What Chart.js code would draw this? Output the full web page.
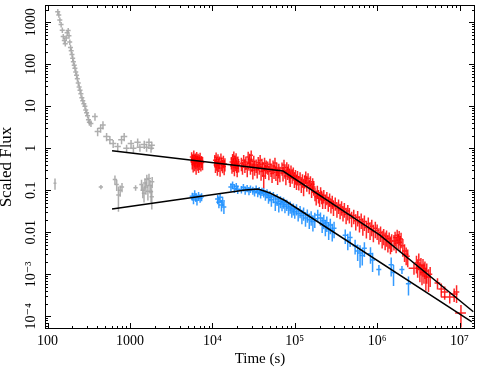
<!DOCTYPE html>
<html>
<head>
<meta charset="utf-8">
<script src="https://cdn.jsdelivr.net/npm/chart.js@4"></script>
<style>
  html, body { margin: 0; padding: 0; background: #fff; }
</style>
</head>
<body>
<canvas id="fluxChart" width="485" height="367"></canvas>
<script>
// each row: [time (s), scaled flux, fractional time error, fractional flux error]
const grayPoints = [
  [133,1790,0.07,0.15],[137,1500,0.07,0.15],[141,1130,0.07,0.15],[146,880,0.07,0.15],[151,650,0.07,0.15],
  [155,460,0.07,0.15],[160,370,0.07,0.15],[164,310,0.07,0.15],[168,420,0.07,0.15],[173,560,0.07,0.15],
  [178,640,0.07,0.15],[182,480,0.07,0.15],[186,340,0.07,0.15],[190,250,0.07,0.15],[194,210,0.07,0.15],
  [198,170,0.07,0.15],[202,140,0.07,0.15],[206,115,0.07,0.15],[211,95,0.07,0.15],[215,80,0.07,0.15],
  [220,66,0.07,0.15],[225,55,0.07,0.15],[230,45,0.07,0.15],[236,36,0.07,0.15],[242,29,0.07,0.15],
  [248,24,0.07,0.15],[254,20,0.07,0.15],[261,16,0.07,0.15],[268,13.5,0.07,0.15],[276,11.5,0.07,0.15],
  [284,10,0.07,0.15],[291,8.2,0.07,0.15],[298,7.0,0.07,0.15],[306,6.0,0.07,0.15],[314,4.8,0.07,0.18],
  [322,4.2,0.07,0.18],[336,3.9,0.07,0.18],[376,5.7,0.08,0.2],[405,2.5,0.08,0.22],[440,3.0,0.08,0.22],
  [470,3.6,0.08,0.22],[520,1.9,0.09,0.22],[570,1.6,0.09,0.22],[625,1.3,0.09,0.22],[710,1.1,0.09,0.22],
  [790,1.6,0.09,0.22],[850,1.9,0.09,0.22],[910,1.0,0.09,0.22],[1030,1.3,0.09,0.22],[1100,1.0,0.09,0.22],
  [1240,1.4,0.09,0.22],[1320,1.06,0.09,0.22],[1490,1.24,0.09,0.22],[1590,1.06,0.09,0.22],[1700,1.4,0.09,0.22],
  [1840,1.18,0.09,0.22],[1800,1.0,0.09,0.22],
  [123,0.147,0.04,0.3],[444,0.12,0.06,0.12],[657,0.18,0.06,0.25],[690,0.137,0.06,0.3],[724,0.077,0.06,0.6],
  [760,0.1,0.06,0.3],[800,0.12,0.06,0.25],[1170,0.115,0.06,0.15],[1380,0.137,0.06,0.3],[1430,0.1,0.06,0.35],
  [1480,0.085,0.06,0.4],[1520,0.15,0.06,0.3],[1560,0.12,0.06,0.35],[1600,0.18,0.06,0.3],[1650,0.095,0.06,0.4],
  [1700,0.19,0.06,0.3],[1750,0.13,0.06,0.35],[1800,0.093,0.06,0.45],[1840,0.07,0.06,0.5],[1860,0.16,0.06,0.3]
];

const redPoints = [
  [5600,0.62,0.05,0.3],[5700,0.48,0.05,0.35],[5800,0.55,0.05,0.3],[5850,0.41,0.05,0.35],[5950,0.68,0.05,0.3],
  [6050,0.52,0.05,0.33],[6100,0.44,0.05,0.35],[6200,0.58,0.05,0.3],[6300,0.49,0.05,0.35],[6350,0.38,0.05,0.38],
  [6450,0.63,0.05,0.3],[6550,0.51,0.05,0.32],[6650,0.45,0.05,0.35],[6700,0.57,0.05,0.3],[6800,0.40,0.05,0.35],
  [6900,0.53,0.05,0.32],[7000,0.47,0.05,0.35],[7100,0.60,0.05,0.3],[7250,0.43,0.05,0.35],[7400,0.50,0.05,0.32],
  [7600,0.46,0.05,0.35],
  [10700,0.52,0.05,0.33],[10900,0.40,0.05,0.35],[11100,0.61,0.05,0.3],[11300,0.45,0.05,0.35],[11500,0.36,0.05,0.38],
  [11700,0.55,0.05,0.32],[11900,0.42,0.05,0.35],[12100,0.48,0.05,0.33],[12400,0.34,0.05,0.38],[12700,0.58,0.05,0.3],
  [13000,0.44,0.05,0.35],[13300,0.39,0.05,0.35],[13600,0.50,0.05,0.33],[13900,0.37,0.05,0.38],[14200,0.43,0.05,0.35],
  [17000,0.47,0.05,0.33],[17300,0.38,0.05,0.35],[17600,0.56,0.05,0.3],[17900,0.42,0.05,0.35],[18200,0.65,0.05,0.3],
  [18500,0.35,0.05,0.38],[18800,0.50,0.05,0.33],[19100,0.44,0.05,0.35],[19400,0.59,0.05,0.3],[19700,0.40,0.05,0.35],
  [20000,0.33,0.05,0.38],[20400,0.48,0.05,0.33],[20800,0.41,0.05,0.35],
  [22500,0.44,0.05,0.35],[23200,0.36,0.05,0.35],[24000,0.52,0.05,0.33],[24800,0.40,0.05,0.35],[25500,0.47,0.05,0.35],
  [26500,0.33,0.05,0.38],[27200,0.62,0.05,0.33],[27800,0.45,0.05,0.35],[28400,0.55,0.05,0.35],[29000,0.38,0.05,0.38],
  [29600,0.68,0.05,0.3],[30300,0.42,0.05,0.35],[31000,0.30,0.05,0.4],[31800,0.49,0.05,0.35],[32600,0.36,0.05,0.38],
  [34000,0.40,0.05,0.35],[35000,0.31,0.05,0.38],[36000,0.46,0.05,0.35],[37000,0.36,0.05,0.35],[38000,0.52,0.05,0.33],
  [39000,0.28,0.05,0.4],[40000,0.42,0.05,0.35],[41000,0.34,0.05,0.38],[42000,0.22,0.05,0.5],[43000,0.44,0.05,0.35],
  [44000,0.30,0.05,0.38],[45000,0.38,0.05,0.35],
  [47000,0.36,0.05,0.35],[48500,0.28,0.05,0.38],[50000,0.42,0.05,0.35],[51500,0.32,0.05,0.35],[53000,0.25,0.05,0.4],
  [54500,0.38,0.05,0.35],[56000,0.30,0.05,0.38],[57500,0.45,0.05,0.33],[59000,0.27,0.05,0.38],[60500,0.34,0.05,0.35],
  [62000,0.23,0.05,0.42],[64000,0.31,0.05,0.38],[66000,0.26,0.05,0.4],
  [70000,0.34,0.05,0.35],[72000,0.26,0.05,0.38],[74000,0.40,0.05,0.33],[76000,0.29,0.05,0.35],[78000,0.22,0.05,0.4],
  [80000,0.35,0.05,0.33],[82000,0.27,0.05,0.35],[84000,0.31,0.05,0.35],[86000,0.24,0.05,0.38],[88000,0.20,0.05,0.4],
  [90000,0.29,0.05,0.35],[93000,0.23,0.05,0.38],[96000,0.26,0.05,0.35],[99000,0.19,0.05,0.4],[102000,0.22,0.05,0.38],
  [105000,0.17,0.05,0.4],[108000,0.21,0.05,0.38],
  [112000,0.16,0.05,0.38],[116000,0.20,0.05,0.35],[120000,0.14,0.05,0.38],[124000,0.18,0.05,0.35],[128000,0.12,0.05,0.4],
  [132000,0.17,0.05,0.35],[136000,0.21,0.05,0.33],[140000,0.15,0.05,0.38],[145000,0.19,0.05,0.35],[150000,0.13,0.05,0.38],
  [155000,0.16,0.05,0.35],[160000,0.11,0.05,0.4],[165000,0.14,0.05,0.38],[170000,0.12,0.05,0.38],
  [176000,0.085,0.05,0.35],[182000,0.07,0.05,0.38],[188000,0.095,0.05,0.35],[194000,0.075,0.05,0.35],[200000,0.065,0.05,0.38],
  [206000,0.088,0.05,0.35],[212000,0.072,0.05,0.35],[218000,0.06,0.05,0.4],
  [225000,0.075,0.05,0.35],[235000,0.058,0.05,0.38],[245000,0.068,0.05,0.35],[255000,0.05,0.05,0.38],[265000,0.062,0.05,0.35],
  [275000,0.045,0.05,0.38],[285000,0.055,0.05,0.35],[295000,0.041,0.05,0.4],[310000,0.05,0.05,0.35],[325000,0.037,0.05,0.4],
  [340000,0.044,0.05,0.38],[355000,0.034,0.05,0.4],[370000,0.04,0.05,0.38],[385000,0.03,0.05,0.4],[400000,0.036,0.05,0.38],
  [420000,0.027,0.05,0.42],[440000,0.032,0.05,0.4],
  [460000,0.027,0.05,0.4],[490000,0.022,0.05,0.4],[520000,0.025,0.05,0.38],[550000,0.019,0.05,0.42],[580000,0.023,0.05,0.4],
  [610000,0.017,0.05,0.42],[640000,0.02,0.05,0.4],[670000,0.015,0.05,0.45],[700000,0.018,0.05,0.4],[740000,0.013,0.05,0.45],
  [780000,0.016,0.05,0.4],[820000,0.012,0.05,0.45],[860000,0.014,0.05,0.42],[900000,0.0105,0.05,0.45],[950000,0.0125,0.05,0.42],
  [1000000,0.011,0.05,0.4],[1050000,0.0088,0.05,0.42],[1100000,0.0098,0.05,0.4],[1150000,0.0075,0.05,0.45],[1200000,0.0085,0.05,0.42],
  [1250000,0.0068,0.05,0.45],[1300000,0.0078,0.05,0.42],[1350000,0.006,0.05,0.45],[1400000,0.007,0.05,0.42],[1450000,0.0055,0.05,0.45],
  [1500000,0.0062,0.05,0.45],
  [1600000,0.0062,0.05,0.4],[1650000,0.0075,0.05,0.38],[1700000,0.0055,0.05,0.42],[1750000,0.0085,0.05,0.35],[1800000,0.0065,0.05,0.4],
  [1850000,0.0078,0.05,0.38],[1900000,0.0058,0.05,0.42],[1950000,0.007,0.05,0.4],[2050000,0.0048,0.05,0.45],[2150000,0.0036,0.06,0.45],
  [2250000,0.003,0.06,0.45],[2350000,0.0027,0.06,0.45],[2800000,0.0014,0.14,0.3],
  [3000000,0.0019,0.05,0.45],[3100000,0.0015,0.05,0.45],[3200000,0.0022,0.05,0.42],[3300000,0.0013,0.05,0.5],[3400000,0.0017,0.05,0.45],
  [3500000,0.0011,0.05,0.5],[3600000,0.0016,0.05,0.45],[3700000,0.0012,0.05,0.5],[3800000,0.0014,0.05,0.45],[3900000,0.0009,0.05,0.55],
  [4000000,0.0012,0.05,0.5],[4200000,0.00085,0.06,0.55],[4400000,0.001,0.06,0.5],
  [5400000,0.00062,0.08,0.3],[6000000,0.00045,0.08,0.35],[6600000,0.00038,0.1,0.35],[7600000,0.00029,0.22,0.3],
  [8600000,0.00034,0.1,0.35],[9200000,0.00038,0.08,0.45],[10400000,0.00012,0.15,0.55]
];

const bluePoints = [
  [5700,0.072,0.07,0.22],[5900,0.062,0.07,0.25],[6100,0.082,0.07,0.22],[6300,0.068,0.07,0.22],[6500,0.058,0.07,0.25],
  [6800,0.075,0.07,0.22],[7100,0.065,0.07,0.22],[7400,0.07,0.07,0.22],
  [11600,0.062,0.07,0.25],[12000,0.052,0.07,0.28],[12400,0.068,0.07,0.22],[12900,0.045,0.07,0.3],[13300,0.056,0.07,0.25],
  [13800,0.04,0.07,0.32],
  [16800,0.12,0.07,0.22],[17600,0.135,0.07,0.2],[18500,0.11,0.07,0.22],[19500,0.125,0.07,0.2],[20300,0.105,0.07,0.22],
  [22500,0.105,0.07,0.2],[23800,0.118,0.07,0.2],[25000,0.1,0.07,0.22],[26400,0.112,0.07,0.2],[27800,0.098,0.07,0.22],
  [29000,0.108,0.07,0.2],
  [31000,0.1,0.07,0.22],[32500,0.092,0.07,0.22],[34000,0.108,0.07,0.2],[35500,0.088,0.07,0.22],[37000,0.098,0.07,0.22],
  [38500,0.085,0.07,0.25],[40000,0.094,0.07,0.22],
  [42000,0.09,0.07,0.25],[44000,0.078,0.07,0.28],[46000,0.085,0.07,0.25],[48000,0.068,0.07,0.3],[50000,0.075,0.07,0.28],
  [52000,0.06,0.07,0.32],[55000,0.07,0.07,0.3],[58000,0.052,0.07,0.38],[61000,0.062,0.07,0.32],[64000,0.048,0.07,0.38],
  [67000,0.055,0.07,0.32],[70000,0.047,0.07,0.32],[73000,0.052,0.07,0.3],[76000,0.042,0.07,0.32],[80000,0.046,0.07,0.3],
  [84000,0.038,0.07,0.35],[88000,0.041,0.07,0.32],[92000,0.034,0.07,0.35],[96000,0.037,0.07,0.32],
  [100000,0.031,0.07,0.32],[105000,0.036,0.07,0.3],[110000,0.028,0.07,0.35],[116000,0.032,0.07,0.32],[122000,0.025,0.07,0.38],
  [128000,0.029,0.07,0.35],[135000,0.022,0.07,0.38],[142000,0.026,0.07,0.35],[150000,0.02,0.07,0.4],[158000,0.023,0.07,0.38],
  [166000,0.018,0.07,0.42],[175000,0.021,0.07,0.4],[190000,0.026,0.07,0.32],[205000,0.022,0.07,0.35],
  [215000,0.016,0.07,0.4],[225000,0.019,0.07,0.38],[235000,0.014,0.07,0.42],[245000,0.017,0.07,0.4],[258000,0.012,0.07,0.45],
  [270000,0.015,0.07,0.4],[285000,0.011,0.07,0.45],[300000,0.0125,0.07,0.42],
  [410000,0.0085,0.07,0.38],[440000,0.0065,0.07,0.42],[470000,0.0075,0.07,0.4],
  [540000,0.0048,0.07,0.38],[580000,0.0036,0.07,0.42],[620000,0.0032,0.07,0.55],[660000,0.0028,0.07,0.42],[700000,0.0042,0.07,0.38],
  [830000,0.0031,0.07,0.42],[880000,0.0022,0.07,0.48],
  [1050000,0.0013,0.07,0.28],
  [1480000,0.0017,0.07,0.48],[1580000,0.0011,0.07,0.52],
  [2000000,0.0013,0.07,0.22],[2400000,0.0006,0.07,0.48]
];

// broken power-law fits
const redModelTime = [606, 72000, 1080000, 14700000];
const redModelFlux = [0.877, 0.288, 0.0086, 0.000129];
const blueModelTime = [606, 25000, 36000, 50000, 76000, 14100000];
const blueModelFlux = [0.0359, 0.1016, 0.1074, 0.0863, 0.0572, 0.000074];

const xTickValues = [100, 1000, 1e4, 1e5, 1e6, 1e7];
const xTickLabels = ['100', '1000', '10⁴', '10⁵', '10⁶', '10⁷'];
const yTickValues = [1e-4, 1e-3, 0.01, 0.1, 1, 10, 100, 1000];
const yTickLabels = ['10⁻⁴', '10⁻³', '0.01', '0.1', '1', '10', '100', '1000'];

const FONT = "'Liberation Serif', 'DejaVu Serif', serif";

const toPoints = rows => rows.map(r => ({ x: r[0], y: r[1], xe: r[2], ye: r[3] }));
const toLine = (ts, fs) => ts.map((t, i) => ({ x: t, y: fs[i] }));

function labelFor(values, labels) {
  return function (value) {
    const i = values.findIndex(v => Math.abs(value / v - 1) < 1e-6);
    return i < 0 ? '' : labels[i];
  };
}

// crosses for every measurement, drawn under the model lines
const errorBars = {
  id: 'errorBars',
  beforeDatasetsDraw(chart) {
    const { ctx, chartArea: a, scales: { x, y } } = chart;
    ctx.save();
    ctx.beginPath();
    ctx.rect(a.left, a.top, a.width, a.height);
    ctx.clip();
    ctx.lineWidth = 1.5;
    chart.data.datasets.forEach(ds => {
      if (!ds.errorBars) return;
      ctx.strokeStyle = ds.borderColor;
      ds.data.forEach(p => {
        const px = x.getPixelForValue(p.x);
        const py = y.getPixelForValue(p.y);
        ctx.beginPath();
        ctx.moveTo(x.getPixelForValue(p.x * (1 - p.xe)), py);
        ctx.lineTo(x.getPixelForValue(p.x * (1 + p.xe)), py);
        ctx.moveTo(px, y.getPixelForValue(p.y * (1 + p.ye)));
        ctx.lineTo(px, y.getPixelForValue(p.y * (1 - p.ye)));
        ctx.stroke();
      });
    });
    ctx.restore();
  }
};

// box round the plot, inward ticks on all four sides, rotated y labels
const frameTicks = {
  id: 'frameTicks',
  afterDraw(chart) {
    const { ctx, chartArea: a, scales: { x, y } } = chart;
    const whole = v => {
      const e = Math.floor(Math.log10(v) + 1e-9);
      const s = v / Math.pow(10, e);
      return Math.abs(s - Math.round(s)) < 1e-6;
    };
    const major = v => Math.abs(Math.log10(v) - Math.round(Math.log10(v))) < 1e-6;
    ctx.save();
    ctx.strokeStyle = '#000';
    ctx.lineWidth = 1;
    ctx.beginPath();
    x.ticks.forEach(t => {
      if (!whole(t.value)) return;
      const p = Math.round(x.getPixelForValue(t.value)) + 0.5;
      if (p <= a.left + 1 || p >= a.right - 1) return;
      const len = major(t.value) ? 6 : 3;
      ctx.moveTo(p, a.bottom); ctx.lineTo(p, a.bottom - len);
      ctx.moveTo(p, a.top); ctx.lineTo(p, a.top + len);
    });
    y.ticks.forEach(t => {
      if (!whole(t.value)) return;
      const p = Math.round(y.getPixelForValue(t.value)) + 0.5;
      if (p <= a.top + 1 || p >= a.bottom - 1) return;
      const len = major(t.value) ? 6 : 3;
      ctx.moveTo(a.left, p); ctx.lineTo(a.left + len, p);
      ctx.moveTo(a.right, p); ctx.lineTo(a.right - len, p);
    });
    ctx.stroke();
    ctx.strokeRect(a.left + 0.5, a.top + 0.5, a.width - 1, a.height - 1);

    ctx.fillStyle = '#000';
    ctx.font = '14px ' + FONT;
    ctx.textAlign = 'center';
    ctx.textBaseline = 'middle';
    yTickValues.forEach((v, i) => {
      ctx.save();
      ctx.translate(y.right - 14, y.getPixelForValue(v));
      ctx.rotate(-Math.PI / 2);
      ctx.fillText(yTickLabels[i], 0, 0);
      ctx.restore();
    });
    ctx.restore();
  }
};

new Chart(document.getElementById('fluxChart'), {
  type: 'scatter',
  data: {
    datasets: [
      { label: 'Model 1', data: toLine(redModelTime, redModelFlux), showLine: true,
        borderColor: '#000', borderWidth: 1.5, pointRadius: 0 },
      { label: 'Model 2', data: toLine(blueModelTime, blueModelFlux), showLine: true,
        borderColor: '#000', borderWidth: 1.5, pointRadius: 0 },
      { label: 'Early', data: toPoints(grayPoints), errorBars: true,
        borderColor: 'rgba(165,165,165,0.9)', pointRadius: 0 },
      { label: 'Red', data: toPoints(redPoints), errorBars: true,
        borderColor: 'rgba(255,0,0,0.85)', pointRadius: 0 },
      { label: 'Blue', data: toPoints(bluePoints), errorBars: true,
        borderColor: 'rgba(30,144,255,0.9)', pointRadius: 0 }
    ]
  },
  options: {
    responsive: false,
    animation: false,
    events: [],
    layout: { padding: { top: 5, right: 10, left: 0, bottom: 0 } },
    plugins: { legend: { display: false }, tooltip: { enabled: false } },
    scales: {
      x: {
        type: 'logarithmic',
        position: 'bottom',
        min: 93,
        max: 1.54e7,
        grid: { display: false, drawTicks: false },
        border: { display: false },
        ticks: {
          autoSkip: false, maxRotation: 0, minRotation: 0, padding: 4, color: '#000',
          font: { family: FONT, size: 14 },
          callback: labelFor(xTickValues, xTickLabels)
        },
        title: { display: true, text: 'Time (s)', color: '#000', padding: 0,
          font: { family: FONT, size: 15, lineHeight: 1 } },
        afterFit: s => { s.height = 38; s.paddingLeft = 0; s.paddingRight = 0; }
      },
      y: {
        type: 'logarithmic',
        position: 'left',
        min: 5e-5,
        max: 2580,
        grid: { display: false, drawTicks: false },
        border: { display: false },
        ticks: { display: false },
        title: { display: true, text: 'Scaled Flux', color: '#000', padding: 0,
          font: { family: FONT, size: 17, lineHeight: 0.8 } },
        afterFit: s => { s.width = 45; s.paddingTop = 0; s.paddingBottom = 0; }
      }
    }
  },
  plugins: [errorBars, frameTicks]
});
</script>
</body>
</html>
